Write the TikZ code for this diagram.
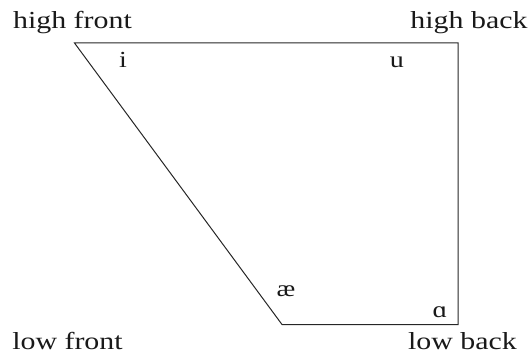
\documentclass[tikz,border=0pt]{standalone}
\usepackage{fontspec}
\setmainfont[FakeStretch=1.22]{Liberation Serif}
\begin{document}
\begin{tikzpicture}[x=1pt,y=-1pt,
  lab/.style={anchor=base,inner sep=0pt,font=\fontsize{24.5}{28}\selectfont,text=black!90},
  vow/.style={anchor=base,inner sep=0pt,font=\fontsize{23}{26}\selectfont,text=black!90},
  edge/.style={draw=black!85,line width=1pt,line join=miter}]
\useasboundingbox (0,0) rectangle (530,355);
\coordinate (hf) at (74.5,43);
\coordinate (hb) at (458,43);
\coordinate (lb) at (458,324.5);
\coordinate (lf) at (282,324.5);
\draw[edge] (hf) -- (hb) -- (lb) -- (lf) -- cycle;
\node[lab] (thf) at (72.5,29) {high front};
\node[lab] (thb) at (469,29) {high back};
\node[lab,text depth=0pt] (tlf) at (67.5,349.5) {low front};
\node[lab,text depth=0pt] (tlb) at (462.5,349.5) {low back};
\node[vow] (vi) at (123,67.5) {i};
\node[vow] (vu) at (397,67.5) {u};
\node[vow] (vae) at (286,297) {æ};
\node[vow] (va) at (440,317) {ɑ};
\end{tikzpicture}
\end{document}
